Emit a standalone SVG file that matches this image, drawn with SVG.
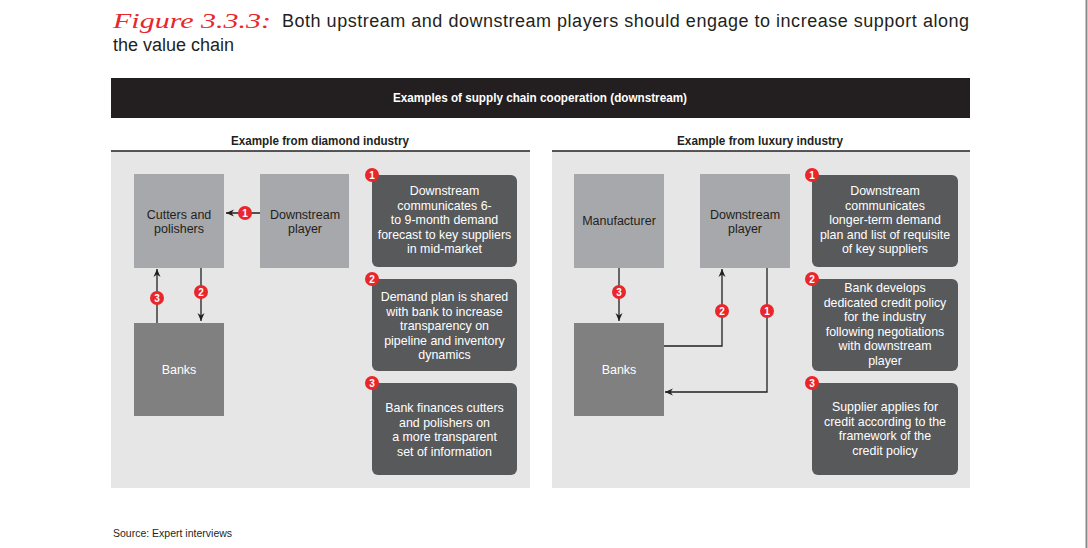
<svg xmlns="http://www.w3.org/2000/svg" width="1088" height="548" viewBox="0 0 1088 548">
<style>
text{font-family:"Liberation Sans",Arial,sans-serif}
.ttl{font-size:18px;fill:#231f20}
.fig{font-family:"Liberation Serif",serif;font-style:italic;font-size:22px;fill:#e8262b}
.hdr{font-size:12px;font-weight:bold;fill:#fff}
.sub{font-size:12px;font-weight:bold;fill:#231f20}
.panel{fill:#e6e6e6}
.lbox{fill:#a7a8ab}
.dbox{fill:#808080}
.tbox{fill:#58595b}
.nt{font-size:12.5px;fill:#231f20;text-anchor:middle}
.nw{font-size:12.5px;fill:#fff;text-anchor:middle}
.bt{font-size:12.4px;fill:#fff;text-anchor:middle}
.badge{fill:#e8262b}
.bn{font-size:10px;font-weight:bold;fill:#fff;text-anchor:middle}
.con{stroke:#231f20;stroke-width:1.3;fill:none}
.src{font-size:10.5px;fill:#231f20}
</style>
<defs>
<marker id="ah" markerUnits="userSpaceOnUse" markerWidth="8" markerHeight="8" refX="8" refY="4" orient="auto">
<path d="M0,0.5 L8,4 L0,7.5 L2.5,4 z" fill="#231f20"/>
</marker>
</defs>
<rect width="1088" height="548" fill="#fff"/>
<line x1="1086.5" y1="0" x2="1086.5" y2="548" stroke="#8a8a8a" stroke-width="2"/>

<g id="title">
<text class="fig" x="113" y="28" textLength="158" lengthAdjust="spacingAndGlyphs">Figure 3.3.3:</text>
<text class="ttl" x="282" y="27" textLength="687" lengthAdjust="spacing">Both upstream and downstream players should engage to increase support along</text>
<text class="ttl" x="113" y="51">the value chain</text>
</g>

<g id="header">
<rect x="111" y="78" width="859" height="40" fill="#231f20"/>
<text class="hdr" x="540" y="102" text-anchor="middle" textLength="294" lengthAdjust="spacingAndGlyphs">Examples  of supply chain cooperation (downstream)</text>
</g>

<g id="panel-left">
<rect class="panel" x="111" y="151" width="419" height="337"/>
<line x1="111" y1="151" x2="530" y2="151" stroke="#231f20" stroke-width="1.5"/>
<text class="sub" x="320" y="145" text-anchor="middle" textLength="178" lengthAdjust="spacingAndGlyphs">Example from diamond industry</text>
</g>
<g id="panel-right">
<rect class="panel" x="552" y="151" width="418" height="337"/>
<line x1="552" y1="151" x2="970" y2="151" stroke="#231f20" stroke-width="1.5"/>
<text class="sub" x="760" y="145" text-anchor="middle" textLength="166" lengthAdjust="spacingAndGlyphs">Example from luxury industry</text>
</g>

<g id="connectors">
<line class="con" x1="260" y1="213" x2="226" y2="213" marker-end="url(#ah)"/>
<line class="con" x1="201" y1="268" x2="201" y2="321" marker-end="url(#ah)"/>
<line class="con" x1="157" y1="323" x2="157" y2="269" marker-end="url(#ah)"/>
<line class="con" x1="619" y1="268" x2="619" y2="321" marker-end="url(#ah)"/>
<path class="con" d="M664,346 H722 V269" marker-end="url(#ah)"/>
<path class="con" d="M767,268 V392 H665" marker-end="url(#ah)"/>
<circle class="badge" cx="245" cy="213" r="7"/><text class="bn" x="245" y="216.5">1</text>
<circle class="badge" cx="201" cy="292" r="7"/><text class="bn" x="201" y="295.5">2</text>
<circle class="badge" cx="157" cy="298" r="7"/><text class="bn" x="157" y="301.5">3</text>
<circle class="badge" cx="619" cy="292" r="7"/><text class="bn" x="619" y="295.5">3</text>
<circle class="badge" cx="722" cy="311" r="7"/><text class="bn" x="722" y="314.5">2</text>
<circle class="badge" cx="767" cy="311" r="7"/><text class="bn" x="767" y="314.5">1</text>
</g>

<g id="node-cutters">
<rect class="lbox" x="134" y="174" width="90" height="94"/>
<text class="nt" x="179" y="218.5">Cutters and<tspan x="179" dy="14">polishers</tspan></text>
</g>
<g id="node-downstream-left">
<rect class="lbox" x="260" y="174" width="89" height="94"/>
<text class="nt" x="305" y="218.5">Downstream<tspan x="305" dy="14">player</tspan></text>
</g>
<g id="node-banks-left">
<rect class="dbox" x="134" y="323" width="90" height="93"/>
<text class="nw" x="179" y="373.5">Banks</text>
</g>

<g id="node-manufacturer">
<rect class="lbox" x="574" y="174" width="90" height="94"/>
<text class="nt" x="619" y="224.5">Manufacturer</text>
</g>
<g id="node-downstream-right">
<rect class="lbox" x="700" y="174" width="90" height="94"/>
<text class="nt" x="745" y="218.5">Downstream<tspan x="745" dy="14">player</tspan></text>
</g>
<g id="node-banks-right">
<rect class="dbox" x="574" y="323" width="90" height="93"/>
<text class="nw" x="619" y="373.5">Banks</text>
</g>

<g id="note-left-1">
<rect class="tbox" x="372" y="175" width="145" height="92" rx="6"/>
<text class="bt" x="444.5" y="195">Downstream<tspan x="444.5" dy="14.5">communicates 6-</tspan><tspan x="444.5" dy="14.5">to 9-month demand</tspan><tspan x="444.5" dy="14.5">forecast to key suppliers</tspan><tspan x="444.5" dy="14.5">in mid-market</tspan></text>
<circle class="badge" cx="372" cy="175" r="7"/><text class="bn" x="372" y="178.5">1</text>
</g>
<g id="note-left-2">
<rect class="tbox" x="372" y="279" width="145" height="92" rx="6"/>
<text class="bt" x="444.5" y="301">Demand plan is shared<tspan x="444.5" dy="14.5">with bank to increase</tspan><tspan x="444.5" dy="14.5">transparency on</tspan><tspan x="444.5" dy="14.5">pipeline and inventory</tspan><tspan x="444.5" dy="14.5">dynamics</tspan></text>
<circle class="badge" cx="372" cy="279" r="7"/><text class="bn" x="372" y="282.5">2</text>
</g>
<g id="note-left-3">
<rect class="tbox" x="372" y="383" width="145" height="92" rx="6"/>
<text class="bt" x="444.5" y="412">Bank finances cutters<tspan x="444.5" dy="14.7">and polishers on</tspan><tspan x="444.5" dy="14.7">a more transparent</tspan><tspan x="444.5" dy="14.7">set of information</tspan></text>
<circle class="badge" cx="372" cy="383" r="7"/><text class="bn" x="372" y="386.5">3</text>
</g>

<g id="note-right-1">
<rect class="tbox" x="812" y="175" width="146" height="92" rx="6"/>
<text class="bt" x="885" y="195">Downstream<tspan x="885" dy="14.5">communicates</tspan><tspan x="885" dy="14.5">longer-term demand</tspan><tspan x="885" dy="14.5">plan and list of requisite</tspan><tspan x="885" dy="14.5">of key suppliers</tspan></text>
<circle class="badge" cx="812" cy="175" r="7"/><text class="bn" x="812" y="178.5">1</text>
</g>
<g id="note-right-2">
<rect class="tbox" x="812" y="279" width="146" height="92" rx="6"/>
<text class="bt" x="885" y="292">Bank develops<tspan x="885" dy="14.6">dedicated credit policy</tspan><tspan x="885" dy="14.6">for the industry</tspan><tspan x="885" dy="14.6">following negotiations</tspan><tspan x="885" dy="14.6">with downstream</tspan><tspan x="885" dy="14.6">player</tspan></text>
<circle class="badge" cx="812" cy="279" r="7"/><text class="bn" x="812" y="282.5">2</text>
</g>
<g id="note-right-3">
<rect class="tbox" x="812" y="383" width="146" height="92" rx="6"/>
<text class="bt" x="885" y="411">Supplier applies for<tspan x="885" dy="14.7">credit according to the</tspan><tspan x="885" dy="14.7">framework of the</tspan><tspan x="885" dy="14.7">credit policy</tspan></text>
<circle class="badge" cx="812" cy="383" r="7"/><text class="bn" x="812" y="386.5">3</text>
</g>

<text class="src" x="113" y="537">Source: Expert interviews</text>
</svg>
